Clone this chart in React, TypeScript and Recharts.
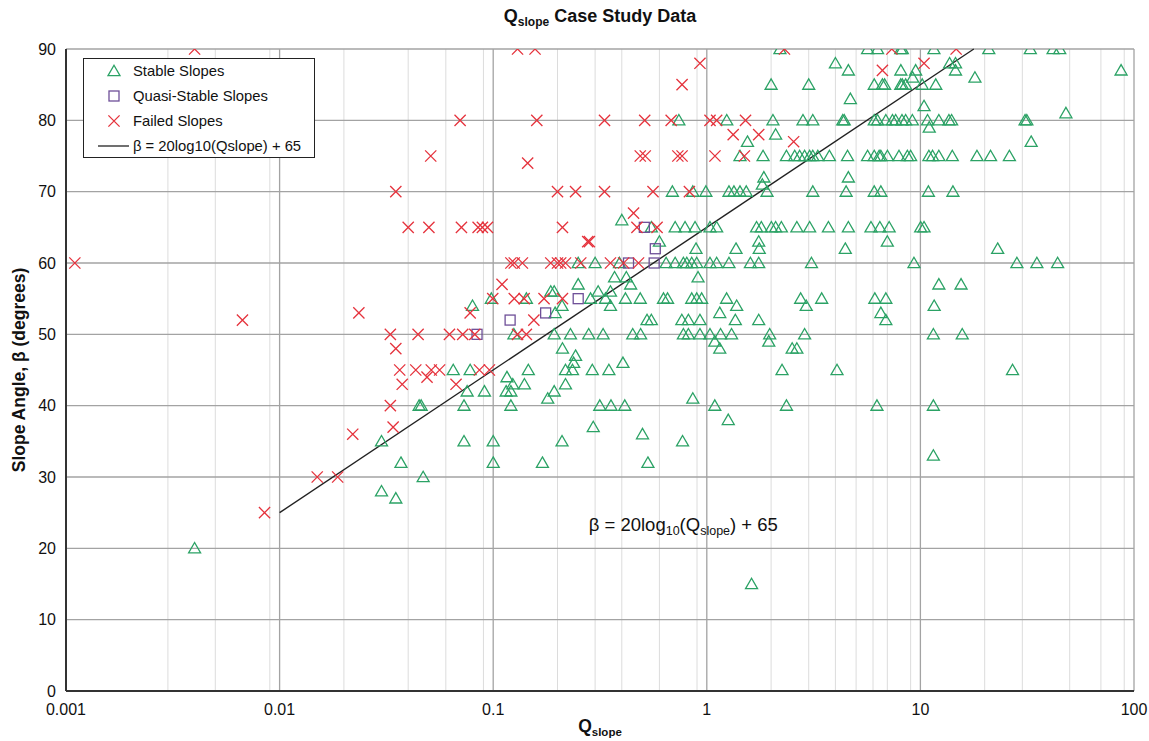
import React from "react";
import {
  ScatterChart,
  Scatter,
  XAxis,
  YAxis,
  CartesianGrid,
  ReferenceLine,
  ReferenceDot,
} from "recharts";

// ---- data: [Q_slope, slope angle β in degrees] ----
const stableSlopes: [number, number][] = [
  [0.004, 20], [1.62, 15],
  [0.03, 35], [0.037, 32], [0.03, 28], [0.035, 27], [0.045, 40], [0.047, 30],
  [0.046, 40], [0.073, 40], [0.121, 40],
  [0.073, 35], [0.1, 35], [0.1, 32], [0.17, 32], [0.21, 35],
  [0.065, 45], [0.078, 45],
  [0.0755, 42], [0.091, 42], [0.115, 42], [0.121, 42], [0.193, 42], [0.18, 41],
  [0.116, 44], [0.1235, 43], [0.14, 43], [0.218, 43],
  [0.146, 45], [0.218, 45], [0.235, 45], [0.291, 45], [0.348, 45], [0.405, 46],
  [0.243, 47], [0.238, 46], [0.211, 48],
  [0.3155, 40], [0.356, 40], [0.413, 40], [0.294, 37], [0.86, 41], [1.09, 40],
  [1.26, 38], [0.5, 36], [0.77, 35], [0.53, 32],
  [0.125, 50], [0.193, 50], [0.23, 50], [0.28, 50], [0.327, 50], [0.45, 50],
  [0.49, 50], [0.777, 50], [0.82, 50], [0.929, 50], [1.035, 50], [1.16, 50],
  [1.306, 50], [1.97, 50], [2.87, 50], [11.5, 50], [15.7, 50],
  [1.09, 49], [1.15, 48], [1.95, 49], [2.51, 48], [2.64, 48],
  [0.525, 52], [0.55, 52], [0.764, 52], [0.82, 52], [0.929, 52], [1.36, 52],
  [1.75, 52], [6.89, 52],
  [0.08, 54], [0.21, 54], [0.195, 53], [0.354, 54], [1.38, 54], [1.15, 53],
  [2.92, 54], [6.53, 53], [11.6, 54],
  [0.098, 55], [0.143, 55], [0.2856, 55], [0.3355, 55], [0.416, 55], [0.488, 55],
  [0.627, 55], [0.655, 55], [0.85, 55], [0.897, 55], [0.946, 55], [1.238, 55],
  [2.75, 55], [3.45, 55], [6.12, 55], [6.89, 55],
  [0.186, 56], [0.193, 56], [0.25, 57], [0.31, 56], [0.354, 56], [0.37, 58],
  [0.42, 58], [0.44, 57], [0.91, 58], [12.2, 57], [15.5, 57],
  [0.25, 60], [0.3, 60], [0.39, 60], [0.645, 60], [0.711, 60], [0.777, 60],
  [0.806, 60], [0.85, 60], [0.897, 60], [1.035, 60], [1.112, 60], [1.27, 60],
  [1.6, 60], [1.75, 60], [3.09, 60], [9.33, 60], [28.3, 60], [35.1, 60], [43.9, 60],
  [0.6, 63], [0.89, 62], [1.37, 62], [1.75, 63], [1.76, 62], [7.0, 63],
  [4.45, 62], [23, 62],
  [0.55, 65], [0.711, 65], [0.791, 65], [0.881, 65], [1.035, 65], [1.112, 65],
  [1.71, 65], [1.8, 65], [2.006, 65], [2.1, 65], [2.234, 65], [2.64, 65],
  [3.03, 65], [3.71, 65], [4.6, 65], [5.87, 65], [6.46, 65], [7.14, 65],
  [10.03, 65], [10.4, 65],
  [0.4, 66],
  [0.69, 70], [0.86, 70], [0.99, 70], [1.27, 70], [1.34, 70], [1.43, 70],
  [1.53, 70], [1.914, 70], [3.135, 70], [4.49, 70], [6.08, 70], [6.53, 70],
  [10.9, 70], [14.2, 70],
  [1.85, 72], [1.82, 71], [4.6, 72],
  [1.43, 75], [1.834, 75], [2.36, 75], [2.58, 75], [2.72, 75], [2.87, 75],
  [3.03, 75], [3.135, 75], [3.31, 75], [3.75, 75], [4.56, 75], [5.66, 75],
  [6.08, 75], [6.41, 75], [6.53, 75], [7.01, 75], [7.94, 75], [8.69, 75],
  [9.0, 75], [10.96, 75], [11.4, 75], [12.2, 75], [14.1, 75], [18.4, 75],
  [21.3, 75], [26.1, 75],
  [1.55, 77], [2.1, 78], [33, 77], [11, 79],
  [0.74, 80], [1.24, 80], [2.04, 80], [2.82, 80], [3.135, 80], [4.33, 80],
  [4.4, 80], [6.08, 80], [6.3, 80], [6.89, 80], [7.4, 80], [7.66, 80],
  [8.2, 80], [8.53, 80], [9.17, 80], [10.8, 80], [12.2, 80], [13.6, 80],
  [14.0, 80], [30.9, 80], [31.5, 80],
  [10.4, 82], [48, 81], [4.7, 83],
  [2.0, 85], [3.0, 85], [6.08, 85], [6.64, 85], [6.8, 85], [8.09, 85],
  [8.23, 85], [8.53, 85], [10.2, 85], [11.8, 85],
  [9.2, 86], [18, 86], [4.6, 87], [8.1, 87], [9.5, 87], [14.6, 87], [87, 87],
  [4.0, 88], [13.7, 88], [14.6, 88],
  [2.2, 90], [5.66, 90], [6.3, 90], [8.09, 90], [8.23, 90], [11.57, 90],
  [20.9, 90], [32.7, 90], [41.8, 90], [44.9, 90],
  [2.25, 45], [4.07, 45], [27, 45], [2.36, 40], [6.26, 40], [11.5, 40], [11.5, 33],
];

const quasiStableSlopes: [number, number][] = [
  [0.084, 50], [0.12, 52], [0.176, 53], [0.25, 55],
  [0.43, 60], [0.51, 65], [0.567, 60], [0.574, 62],
];

const failedSlopes: [number, number][] = [
  [0.004, 90], [0.0011, 60], [0.0067, 52], [0.0085, 25], [0.015, 30],
  [0.0187, 30], [0.022, 36], [0.0235, 53], [0.033, 40], [0.034, 37],
  [0.033, 50], [0.035, 48], [0.035, 70], [0.0365, 45], [0.0375, 43],
  [0.04, 65], [0.0445, 50], [0.0434, 45], [0.049, 44], [0.05, 65],
  [0.051, 75], [0.0513, 45], [0.0561, 45], [0.0624, 50], [0.067, 43],
  [0.07, 80], [0.071, 65], [0.072, 50], [0.078, 53], [0.082, 50],
  [0.085, 65], [0.0862, 45], [0.089, 65], [0.094, 65], [0.096, 45],
  [0.0995, 55], [0.11, 57], [0.121, 60], [0.1255, 60], [0.1255, 55],
  [0.13, 50], [0.13, 90], [0.137, 60], [0.143, 50], [0.1396, 55],
  [0.145, 74], [0.155, 52], [0.157, 90], [0.16, 80], [0.173, 55],
  [0.186, 60], [0.2, 60], [0.207, 60], [0.218, 60], [0.2, 70],
  [0.211, 65], [0.211, 55], [0.243, 70], [0.257, 60], [0.277, 63],
  [0.282, 63], [0.332, 80], [0.332, 70], [0.354, 60], [0.408, 60],
  [0.454, 67], [0.471, 65], [0.479, 60], [0.488, 75], [0.512, 80],
  [0.515, 75], [0.56, 70], [0.585, 65], [0.681, 80], [0.732, 75],
  [0.766, 75], [0.766, 85], [0.829, 70], [0.929, 88], [1.035, 80],
  [1.112, 80], [1.092, 75], [1.329, 78], [1.518, 80], [1.5, 75],
  [1.75, 78], [2.55, 77], [2.31, 90], [6.64, 87], [7.35, 90],
  [10.4, 88], [14.7, 90],
];

// axis ticks
const xTicks = [0.001, 0.01, 0.1, 1, 10, 100];
const yTicks = [0, 10, 20, 30, 40, 50, 60, 70, 80, 90];
const minorXTicks: number[] = [];
for (let d = 0.001; d < 100; d *= 10) {
  for (let m = 2; m <= 9; m++) minorXTicks.push(+(m * d).toPrecision(3));
}

// trend line β = 20·log10(Q) + 65, drawn from Q = 0.01 up to β = 90
const FIT_A = 20;
const FIT_B = 65;
const fitQStart = 0.01;
const fitQEnd = Math.pow(10, (90 - FIT_B) / FIT_A);
const fitBeta = (q: number) => FIT_A * Math.log10(q) + FIT_B;

const toRows = (pts: [number, number][]) => pts.map(([q, beta]) => ({ q, beta }));

const GREEN = "#2ba265";
const PURPLE = "#6e4f98";
const RED = "#e5323c";
const FONT = '"Liberation Sans", Arial, Helvetica, sans-serif';

const Tri = (p: any) => {
  const { cx, cy } = p;
  if (cx == null || cy == null) return <g />;
  return (
    <path
      d={`M${cx},${cy - 5.8} L${cx + 6},${cy + 4.6} L${cx - 6},${cy + 4.6} Z`}
      fill="none"
      stroke={GREEN}
      strokeWidth={1.3}
    />
  );
};

const Sq = (p: any) => {
  const { cx, cy } = p;
  if (cx == null || cy == null) return <g />;
  return (
    <rect x={cx - 5} y={cy - 5} width={10} height={10} fill="none" stroke={PURPLE} strokeWidth={1.3} />
  );
};

const Cross = (p: any) => {
  const { cx, cy } = p;
  if (cx == null || cy == null) return <g />;
  const s = 5.6;
  return (
    <path
      d={`M${cx - s},${cy - s} L${cx + s},${cy + s} M${cx - s},${cy + s} L${cx + s},${cy - s}`}
      stroke={RED}
      strokeWidth={1.3}
      fill="none"
    />
  );
};

const formatTick = (v: number) => String(v);

const EquationLabel = (props: any) => {
  const vb = props.viewBox || {};
  const x = vb.cx ?? vb.x;
  const y = vb.cy ?? vb.y;
  return (
    <text x={x} y={y} fontFamily={FONT} fontSize={18.5} fill="#111" textAnchor="start">
      β = 20log
      <tspan dy={4} fontSize={12.5}>10</tspan>
      <tspan dy={-4}>(Q</tspan>
      <tspan dy={4} fontSize={12.5}>slope</tspan>
      <tspan dy={-4}>) + 65</tspan>
    </text>
  );
};

const legendItems = [
  { label: "Stable Slopes", kind: "tri" },
  { label: "Quasi-Stable Slopes", kind: "sq" },
  { label: "Failed Slopes", kind: "x" },
  { label: "β = 20log10(Qslope) + 65", kind: "line" },
];

const LegendBox = () => (
  <div
    style={{
      position: "absolute",
      left: 83,
      top: 58,
      width: 232,
      height: 100,
      boxSizing: "border-box",
      border: "1.5px solid #222",
      background: "#fff",
    }}
  >
    <svg width={229} height={97} style={{ display: "block" }}>
      {legendItems.map((it, i) => {
        const cy = 12 + i * 25;
        const mx = 30;
        let marker: React.ReactNode = null;
        if (it.kind === "tri") marker = <Tri cx={mx} cy={cy} />;
        else if (it.kind === "sq") marker = <Sq cx={mx} cy={cy} />;
        else if (it.kind === "x") marker = <Cross cx={mx} cy={cy} />;
        else marker = <line x1={14} x2={45} y1={cy} y2={cy} stroke="#222" strokeWidth={1.3} />;
        return (
          <g key={it.label}>
            {marker}
            <text x={49} y={cy + 5} fontFamily={FONT} fontSize={14.8} fill="#111">
              {it.label}
            </text>
          </g>
        );
      })}
    </svg>
  </div>
);

export default function App() {
  return (
    <div
      style={{
        position: "absolute",
        left: 0,
        top: 0,
        width: 1149,
        height: 741,
        background: "#fff",
        overflow: "hidden",
      }}
    >
      <ScatterChart
        width={1149}
        height={741}
        margin={{ top: 49, right: 15, bottom: 20, left: 26 }}
      >
        <CartesianGrid
          horizontal={false}
          verticalValues={minorXTicks}
          stroke="#dcdcdc"
          strokeWidth={1}
        />
        <CartesianGrid stroke="#a3a3a3" strokeWidth={1.3} />
        <XAxis
          type="number"
          dataKey="q"
          scale="log"
          domain={[0.001, 100]}
          ticks={xTicks}
          tickFormatter={formatTick}
          allowDataOverflow
          height={30}
          tickLine={false}
          tickSize={0}
          tickMargin={13}
          axisLine={{ stroke: "#333", strokeWidth: 2 }}
          tick={{ fill: "#111", fontSize: 16, fontFamily: FONT }}
        />
        <YAxis
          type="number"
          dataKey="beta"
          domain={[0, 90]}
          ticks={yTicks}
          allowDataOverflow
          width={40}
          tickLine={false}
          tickSize={0}
          tickMargin={10}
          axisLine={{ stroke: "#333", strokeWidth: 2 }}
          tick={{ fill: "#111", fontSize: 16, fontFamily: FONT }}
        />
        <ReferenceLine
          segment={[
            { x: fitQStart, y: fitBeta(fitQStart) },
            { x: fitQEnd, y: fitBeta(fitQEnd) },
          ]}
          stroke="#222"
          strokeWidth={1.4}
          ifOverflow="visible"
        />
        <Scatter
          name="Stable Slopes"
          data={toRows(stableSlopes)}
          shape={Tri}
          isAnimationActive={false}
        />
        <Scatter
          name="Quasi-Stable Slopes"
          data={toRows(quasiStableSlopes)}
          shape={Sq}
          isAnimationActive={false}
        />
        <Scatter
          name="Failed Slopes"
          data={toRows(failedSlopes)}
          shape={Cross}
          isAnimationActive={false}
        />
        <ReferenceDot
          x={0.28}
          y={22.5}
          r={0}
          fill="none"
          stroke="none"
          ifOverflow="visible"
          label={<EquationLabel />}
        />
      </ScatterChart>

      <svg
        width={1149}
        height={741}
        style={{ position: "absolute", left: 0, top: 0, pointerEvents: "none" }}
      >
        <text x={600} y={22} textAnchor="middle" fontFamily={FONT} fontWeight="bold" fontSize={18} fill="#111">
          Q<tspan dy={4} fontSize={12}>slope</tspan>
          <tspan dy={-4}> Case Study Data</tspan>
        </text>
        <text x={600} y={732} textAnchor="middle" fontFamily={FONT} fontWeight="bold" fontSize={17.5} fill="#111">
          Q<tspan dy={4} fontSize={11.5}>slope</tspan>
        </text>
        <text
          x={25}
          y={370}
          textAnchor="middle"
          transform="rotate(-90 25 370)"
          fontFamily={FONT}
          fontWeight="bold"
          fontSize={17.5}
          fill="#111"
        >
          Slope Angle, β (degrees)
        </text>
      </svg>

      <LegendBox />
    </div>
  );
}
